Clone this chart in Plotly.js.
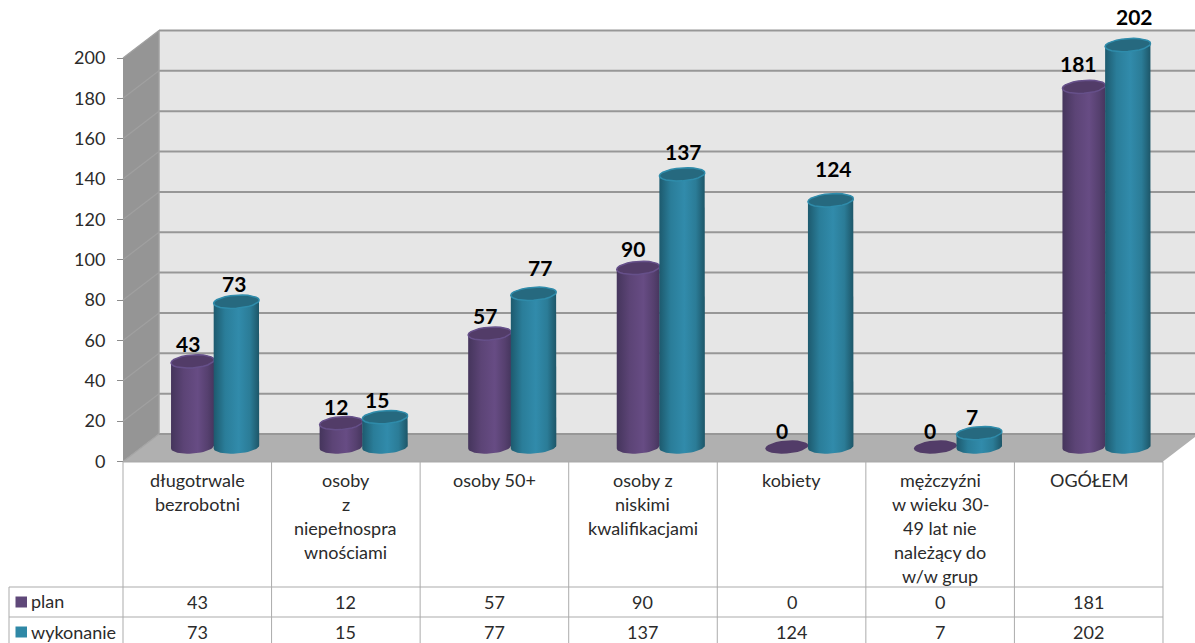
<!DOCTYPE html>
<html><head><meta charset="utf-8">
<script src="https://cdn.plot.ly/plotly-3.0.1.min.js"></script>
<style>html,body{margin:0;padding:0;background:#fff}#c{width:1195px;height:643px}</style>
</head><body><div id="c"></div>
<script>
const categories = ["długotrwale<br>bezrobotni","osoby<br>z<br>niepełnospra<br>wnościami","osoby 50+","osoby z<br>niskimi<br>kwalifikacjami","kobiety","mężczyźni<br>w wieku 30-<br>49 lat nie<br>należący do<br>w/w grup","OGÓŁEM"];
const plan = [43,12,57,90,0,0,181];
const wykonanie = [73,15,77,137,124,7,202];
const yTicks = [0,20,40,60,80,100,120,140,160,180,200];

// label nudges in pixels (layout only)
const planLift = [18,17,18,19,17,17,23];
const wykLift = [18,18,26,23,32,17,29];
const planNudge = [-5,-5,-5,-5,-5,-5,-5];
const wykNudge = [-2,-8,6,1,3,-7,7];

const W = 1195, H = 643;
const catW = 148.57, leftPx = 123, rightPx = 1163;
const floorY = 461.5, unit = 2.0175;
const depthPxX = 36, depthPxY = 27.5;
const barUnit = 1.99, barZeroPx = 447;
const xd = p => (p - leftPx) / catW - 0.5;
const yd = p => (floorY - p) / unit;
const px = p => p / W, py = p => 1 - p / H;
const idx = categories.map((_, i) => i);
const planW = 43 / catW, wykW = 45.5 / catW, planOff = -0.032, wykOff = 0.2635;
const dX = depthPxX / catW, dY = depthPxY / unit;
const ry = 6.5 / barUnit, tilt = 1.5 / barUnit;

const xRange = [xd(0), xd(W)];
const yRange = [yd(H), yd(0)];
const y2Range = [(barZeroPx - H) / barUnit, barZeroPx / barUnit];

function arc(cx, w, v, from, to) {
  const xs = [], ys = [];
  for (let s = 0; s <= 24; s++) {
    const t = from + (to - from) * s / 24;
    xs.push(cx + w / 2 * Math.cos(t));
    ys.push(v + ry * Math.sin(t) + tilt * Math.cos(t));
  }
  return [xs, ys];
}
function cylBody(cx, w, v, stops) {
  const [x1, y1] = arc(cx, w, 0, Math.PI, 2 * Math.PI);
  const [x2, y2] = arc(cx, w, v, 0, Math.PI);
  return {type:'scatter', mode:'lines', x:x1.concat(x2), y:y1.concat(y2), yaxis:'y2', fill:'toself',
    fillgradient:{type:'horizontal', colorscale:stops}, line:{width:0}, showlegend:false, hoverinfo:'skip'};
}
function cylCap(cx, w, v, fill, rim) {
  const [x, y] = arc(cx, w, v, 0, 2 * Math.PI);
  return {type:'scatter', mode:'lines', x, y, yaxis:'y2', fill:'toself', fillcolor:fill,
    line:{width:v > 0 ? 1.5 : 0, color:rim}, showlegend:false, hoverinfo:'skip'};
}
const planStops = [[0,'#45355c'],[0.3,'#5c4476'],[0.62,'#674c84'],[0.85,'#56406f'],[1,'#46365e']];
const wykStops = [[0,'#1d5a6e'],[0.25,'#2a7d99'],[0.55,'#318bab'],[0.8,'#2b7c97'],[1,'#1d5668']];

const traces = [
  {type:'bar', name:'plan', x:idx.map(i=>i+planOff), y:plan, yaxis:'y2', width:planW*0.9, marker:{color:'#5f4879'}, hoverinfo:'x+y'},
  {type:'bar', name:'wykonanie', x:idx.map(i=>i+wykOff), y:wykonanie, yaxis:'y2', width:wykW*0.9, marker:{color:'#2f88a6'}, hoverinfo:'x+y'}
];
idx.forEach(i => {
  if (plan[i] > 0) traces.push(cylBody(i+planOff, planW, plan[i], planStops));
  traces.push(cylCap(i+planOff, planW, plan[i], '#523c68', '#66508a'));
  if (wykonanie[i] > 0) traces.push(cylBody(i+wykOff, wykW, wykonanie[i], wykStops));
  traces.push(cylCap(i+wykOff, wykW, wykonanie[i], '#26697f', '#2f8cab'));
});

const shapes = [];
const poly = (pts, fill) => shapes.push({type:'path', layer:'below', xref:'x', yref:'y', line:{width:0}, fillcolor:fill,
  path:'M' + pts.map(p => p[0] + ',' + p[1]).join('L') + 'Z'});
const x0 = xd(leftPx), x1 = xd(rightPx), yT = yTicks[yTicks.length-1];
poly([[x0+dX,dY],[x1+dX,dY],[x1+dX,yT+dY],[x0+dX,yT+dY]], '#e6e6e6');
poly([[x0,0],[x0+dX,dY],[x0+dX,yT+dY],[x0,yT]], '#959595');
poly([[x0,0],[x1,0],[x1+dX,dY],[x0+dX,dY]], '#b0b0b0');
const gridC = '#979797';
yTicks.forEach(v => {
  shapes.push({type:'line', layer:'below', xref:'x', yref:'y', x0:x0+dX, x1:x1+dX, y0:v+dY, y1:v+dY, line:{color:gridC, width:2}});
  shapes.push({type:'line', layer:'below', xref:'x', yref:'y', x0:x0, x1:x0+dX, y0:v, y1:v+dY, line:{color:v===0?'#a4a4a4':'#a0a0a0', width:1.2}});
});
shapes.push({type:'line', layer:'below', xref:'x', yref:'y', x0:x0+dX, x1:x0+dX, y0:dY, y1:yT+dY, line:{color:'#a0a0a0', width:1.5}});

// table grid
const tc = '#ababab';
const tline = (a,b,c,d,w) => shapes.push({type:'line', xref:'paper', yref:'paper', x0:px(a), x1:px(b), y0:py(c), y1:py(d), line:{color:tc, width:w||1}});
tline(leftPx, rightPx, floorY, floorY, 2);
tline(9, rightPx, 587, 587);
tline(9, rightPx, 617, 617);
tline(9, 9, 587, H);
for (let i = 0; i <= categories.length; i++) { const x = leftPx + i * catW; tline(x, x, floorY, H); }
const sw = (y, c) => shapes.push({type:'rect', xref:'paper', yref:'paper', x0:px(15.5), x1:px(27), y0:py(y-5.5), y1:py(y+5.5), fillcolor:c, line:{width:0}});
sw(602, '#5f4879'); sw(632, '#2f88a6');

const txtFont = {family:'Lato, "Open Sans", sans-serif', size:18, color:'#2b2b2b'};
const lblFont = {family:'Lato, sans-serif', size:21, color:'#000', weight:700};
const annotations = [];
const note = (text, x, y, anchor) => annotations.push({text, x:px(x), y:py(y), xref:'paper', yref:'paper', xanchor:anchor||'center', yanchor:'middle', showarrow:false, font:txtFont});
categories.forEach((c, i) => {
  const cx = leftPx + (i + 0.5) * catW;
  c.split('<br>').forEach((ln, j) => note(ln, cx, 480 + j * 24));
  note(String(plan[i]), cx, 602);
  note(String(wykonanie[i]), cx, 632);
  annotations.push({text:String(plan[i]), x:i+planOff, y:plan[i], xref:'x', yref:'y2', showarrow:false, yanchor:'middle', xshift:planNudge[i], yshift:planLift[i], font:lblFont});
  annotations.push({text:String(wykonanie[i]), x:i+wykOff, y:wykonanie[i], xref:'x', yref:'y2', showarrow:false, yanchor:'middle', xshift:wykNudge[i], yshift:wykLift[i], font:lblFont});
});
note('plan', 29, 601, 'left');
note('wykonanie', 29, 632, 'left');

const layout = {
  width:W, height:H, margin:{l:0,r:0,t:0,b:0}, paper_bgcolor:'#fff', plot_bgcolor:'#fff',
  barmode:'overlay', showlegend:false,
  xaxis:{range:xRange, visible:false, fixedrange:true},
  yaxis:{range:yRange, anchor:'free', position:px(leftPx), tickmode:'array', tickvals:yTicks, ticktext:yTicks.map(String),
    ticks:'outside', ticklen:6, tickcolor:'#8c8c8c', tickwidth:1, showgrid:false, zeroline:false, showline:false, fixedrange:true,
    tickfont:txtFont, ticklabelstandoff:8},
  yaxis2:{range:y2Range, overlaying:'y', visible:false, fixedrange:true},
  shapes, annotations
};
Plotly.newPlot('c', traces, layout, {displayModeBar:false, responsive:false});
</script></body></html>
